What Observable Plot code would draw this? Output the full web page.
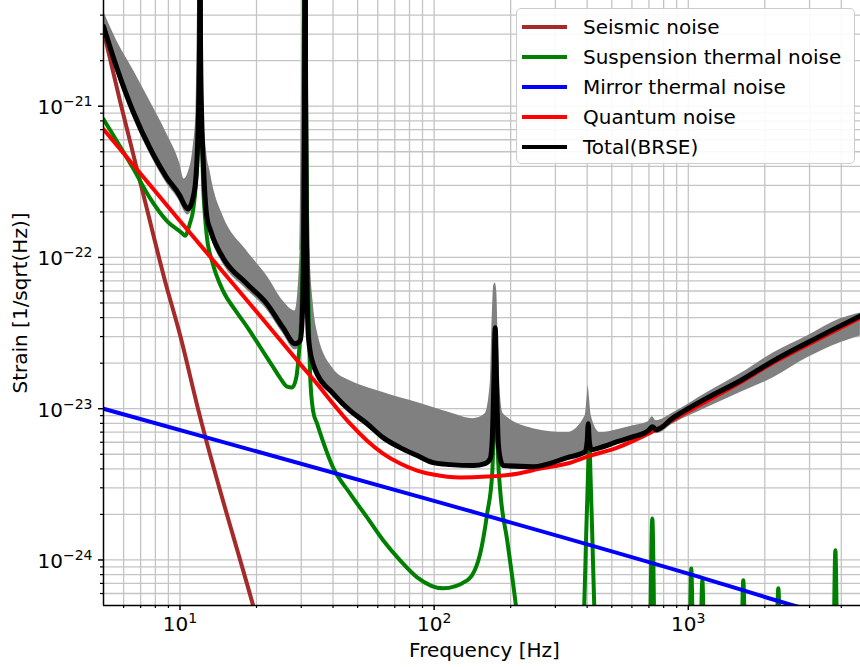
<!DOCTYPE html>
<html><head><meta charset="utf-8">
<script src="https://cdn.jsdelivr.net/npm/d3@7"></script>
<script src="https://cdn.jsdelivr.net/npm/@observablehq/plot@0.6"></script>
<style>
body{margin:0;background:#fff;font-family:"DejaVu Sans",sans-serif;}
#wrap{position:relative;width:860px;height:667px;overflow:hidden;}
#legend{position:absolute;left:516px;top:8px;width:339px;height:156px;border:1.5px solid #cccccc;border-radius:5px;background:rgba(255,255,255,0.9);box-sizing:border-box;}
.row{position:absolute;left:0;height:30px;width:100%;}
.sw{position:absolute;left:5px;width:45px;height:4px;top:13px;}
.lb{position:absolute;left:66px;top:0;line-height:30px;font-size:20px;color:#000;white-space:nowrap;}
</style></head>
<body><div id="wrap"></div>
<script>
// ---- data (frequency in Hz, strain in 1/sqrt(Hz)) ----
const seismicFreq   = [5, 5.81, 7.28, 8.73, 10, 11.77, 19.39, 22.0];
const seismicStrain = [3.13e-21, 1.08e-21, 2.36e-22, 7.00e-23, 3.08e-23, 1.00e-23, 5.01e-25, 2.34e-25];

const mirrorFreq   = [5, 99.1, 991, 2591, 4760];
const mirrorStrain = [1.0e-23, 2.47e-24, 8.15e-25, 5.01e-25, 3.75e-25];

const quantumFreq   = [5, 10, 18.86, 29.68, 34.63, 40.04, 46.7, 54.48, 62.98, 73.47, 85.72, 99.1, 126.6, 161.7, 212.3, 261.4, 333.9, 400.3, 525.4, 708.7, 991, 1602, 2160, 2941, 4755];
const quantumStrain = [7.05e-22, 1.74e-22, 4.93e-23, 1.98e-23, 1.46e-23, 1.08e-23, 7.96e-24, 6.15e-24, 5.05e-24, 4.34e-24, 3.90e-24, 3.67e-24, 3.51e-24, 3.56e-24, 3.72e-24, 4.02e-24, 4.34e-24, 4.82e-24, 5.53e-24, 6.95e-24, 9.54e-24, 1.49e-23, 2.01e-23, 2.64e-23, 3.99e-23];

const suspFreq = [5, 6.53, 7.62, 8.89, 10.27, 10.46, 10.95, 11.25, 11.56, 11.77, 11.94, 12.0, 12.04, 12.21, 12.32, 12.54, 12.77, 13.37, 14.77, 16.47, 18.36, 20.65, 23.23, 24.76, 26.38, 27.6, 28.62, 29.42, 29.95, 30.37, 30.77, 31.05, 31.34, 31.77, 32.2, 32.49, 33.39, 34.63, 40.04, 46.7, 54.48, 62.98, 73.47, 85.72, 108.5, 134.9, 151.7, 161.7, 169.2, 172.3, 173.9, 175.5, 178.6, 181.9, 193.8, 208.5, 214.1,
  null,
  382.5, 389.6, 396.6, 402.1, 407.6, 413.2, 418.8, 426.5, 434.3,
  null, 708.7, 721.7, 734.9,
  null, 1014, 1027.5, 1041,
  null, 1120, 1136, 1151,
  null, 1624, 1646, 1669,
  null, 2230, 2261, 2292,
  null, 3739, 3791, 3843];
const suspStrain = [8.21e-22, 3.90e-22, 2.47e-22, 1.74e-22, 1.43e-22, 1.39e-22, 1.69e-22, 2.03e-22, 3.15e-22, 5.88e-22, 2.49e-21, 1e-19, 2.49e-21, 5.88e-22, 3.20e-22, 1.88e-22, 1.35e-22, 9.48e-23, 6.01e-23, 4.50e-23, 3.48e-23, 2.57e-23, 1.89e-23, 1.60e-23, 1.40e-23, 1.38e-23, 1.58e-23, 2.41e-23, 3.81e-23, 1.10e-22, 1.08e-21, 1e-19, 1.08e-21, 1.10e-22, 3.27e-23, 1.70e-23, 9.70e-24, 7.96e-24, 4.08e-24, 2.75e-24, 1.91e-24, 1.35e-24, 9.93e-25, 7.67e-25, 6.49e-25, 7.33e-25, 1.10e-24, 2.03e-24, 3.72e-24, 1.13e-23, 2.81e-23, 1.13e-23, 4.54e-24, 2.88e-24, 1.35e-24, 5.41e-25, 3.70e-25,
  null,
  2.94e-25, 5.01e-25, 1.50e-24, 3.20e-24, 6.15e-24, 3.20e-24, 1.50e-24, 5.01e-25, 2.94e-25,
  null, 3e-25, 1.88e-24, 3e-25,
  null, 3e-25, 8.79e-25, 3e-25,
  null, 3e-25, 7.33e-25, 3e-25,
  null, 3e-25, 7.33e-25, 3e-25,
  null, 3e-25, 6.49e-25, 3e-25,
  null, 3e-25, 1.16e-24, 3e-25];

const totalFreq = [5, 5.65, 6.53, 7.62, 8.89, 10, 10.37, 10.75, 11.25, 11.56, 11.77, 11.94, 12.0, 12.04, 12.21, 12.32, 12.54, 12.77, 13.13, 13.49, 14.77, 18.36, 22.0, 25.44, 28.37, 29.68, 30.23, 30.64, 30.91, 31.05, 31.2, 31.48, 31.91, 32.49, 33.39, 34.63, 40.04, 46.7, 54.48, 62.98, 73.47, 85.72, 99.1, 115.6, 142.4, 158.8, 166.2, 169.2, 171.5, 173.9, 176.3, 178.6, 181.9, 186.9, 245.3, 333.9, 393, 400.3, 403.9, 407.6, 415.1, 450.3, 525.4, 607.5, 695.9, 721.7, 748, 873, 1188, 1602, 2160, 2941, 3966, 4755];
const totalStrain = [3.37e-21, 1.78e-21, 9.27e-22, 5.28e-22, 3.35e-22, 2.55e-22, 2.25e-22, 2.09e-22, 2.47e-22, 3.45e-22, 6.84e-22, 2.69e-21, 1e-19, 2.69e-21, 6.84e-22, 4.68e-22, 2.55e-22, 1.82e-22, 1.54e-22, 1.35e-22, 9.93e-23, 6.68e-23, 4.93e-23, 3.43e-23, 2.69e-23, 2.81e-23, 3.81e-23, 1.10e-22, 1.08e-21, 1e-19, 1.08e-21, 1.10e-22, 3.27e-23, 2.41e-23, 1.98e-23, 1.70e-23, 1.26e-23, 9.70e-24, 7.96e-24, 6.44e-24, 5.53e-24, 4.90e-24, 4.40e-24, 4.27e-24, 4.21e-24, 4.34e-24, 4.68e-24, 6.15e-24, 1.32e-23, 3.43e-23, 1.32e-23, 6.15e-24, 4.68e-24, 4.21e-24, 4.14e-24, 4.75e-24, 5.20e-24, 6.15e-24, 7.96e-24, 6.15e-24, 5.36e-24, 5.53e-24, 6.05e-24, 6.53e-24, 7.16e-24, 7.60e-24, 7.27e-24, 8.73e-24, 1.18e-23, 1.53e-23, 2.07e-23, 2.73e-23, 3.53e-23, 4.11e-23];

// gray uncertainty band around the total
const bandFreq = [5, 5.65, 6.53, 7.62, 8.89, 10, 10.37, 10.75, 11.25, 11.56, 11.77, 11.94, 12.0, 12.04, 12.21, 12.32, 12.54, 12.77, 13.13, 13.49, 14.77, 18.36, 22.0, 25.44, 28.37, 29.68, 30.23, 30.64, 30.91, 31.05, 31.2, 31.48, 31.91, 32.49, 33.39, 34.63, 40.04, 46.7, 54.48, 62.98, 73.47, 85.72, 99.1, 115.6, 142.4, 158.8, 166.2, 169.2, 171.5, 173.9, 176.3, 178.6, 181.9, 186.9, 245.3, 333.9, 393, 400.3, 403.9, 407.6, 415.1, 450.3, 525.4, 607.5, 695.9, 721.7, 748, 873, 1188, 1602, 2160, 2941, 3966, 4755];
const bandHigh = [4.24e-21, 2.69e-21, 1.75e-21, 1.08e-21, 6.53e-22, 4.14e-22, 3.30e-22, 3.61e-22, 5.28e-22, 9.27e-22, 6.68e-21, 1.05e-20, 1e-19, 1.05e-20, 6.68e-21, 1.08e-21, 6.53e-22, 4.68e-22, 3.72e-22, 2.96e-22, 1.88e-22, 1.10e-22, 7.55e-23, 5.16e-23, 4.43e-23, 1.10e-22, 2.69e-21, 6.68e-21, 1.05e-20, 1e-19, 1.05e-20, 6.68e-21, 3.64e-21, 1.10e-22, 5.16e-23, 3.27e-23, 1.84e-23, 1.53e-23, 1.38e-23, 1.28e-23, 1.18e-23, 1.10e-23, 1.02e-23, 9.41e-24, 8.60e-24, 9.27e-24, 1.46e-23, 3.99e-23, 6.49e-23, 6.79e-23, 6.01e-23, 3.13e-23, 1.32e-23, 9.27e-24, 7.38e-24, 6.95e-24, 8.99e-24, 1.22e-23, 1.42e-23, 1.22e-23, 8.99e-24, 6.95e-24, 7.27e-24, 7.72e-24, 8.21e-24, 8.86e-24, 8.34e-24, 9.41e-24, 1.28e-23, 1.70e-23, 2.34e-23, 3.03e-23, 3.93e-23, 4.30e-23];
const bandLow = [3.08e-21, 1.63e-21, 8.46e-22, 4.82e-22, 3.06e-22, 2.32e-22, 2.03e-22, 1.91e-22, 2.25e-22, 3.15e-22, 6.24e-22, 2.45e-21, 1e-19, 2.45e-21, 6.24e-22, 4.27e-22, 2.32e-22, 1.66e-22, 1.41e-22, 1.23e-22, 9.06e-23, 6.10e-23, 4.50e-23, 3.13e-23, 2.45e-23, 2.57e-23, 3.48e-23, 1.01e-22, 9.85e-22, 1e-19, 9.85e-22, 1.01e-22, 2.99e-23, 2.20e-23, 1.81e-23, 1.60e-23, 1.22e-23, 9.70e-24, 7.96e-24, 6.44e-24, 5.53e-24, 4.90e-24, 4.40e-24, 4.27e-24, 4.21e-24, 4.34e-24, 4.68e-24, 6.15e-24, 1.32e-23, 3.43e-23, 1.32e-23, 6.15e-24, 4.68e-24, 4.21e-24, 4.14e-24, 4.75e-24, 5.20e-24, 6.15e-24, 7.96e-24, 6.15e-24, 5.36e-24, 5.53e-24, 6.05e-24, 6.34e-24, 6.73e-24, 7.05e-24, 6.84e-24, 7.96e-24, 1.02e-23, 1.28e-23, 1.60e-23, 2.17e-23, 2.73e-23, 3.03e-23];

// axes
const xDomain = [5, 4760];
const yDomain = [5e-25, 5e-21];
const xMajorTicks = [10, 100, 1000];
const xMinorTicks = [6, 7, 8, 9, 20, 30, 40, 50, 60, 70, 80, 90, 200, 300, 400, 500, 600, 700, 800, 900, 2000, 3000, 4000];
const yMajorTicks = [1e-24, 1e-23, 1e-22, 1e-21];
const yMinorTicks = [6e-25, 7e-25, 8e-25, 9e-25, 2e-24, 3e-24, 4e-24, 5e-24, 6e-24, 7e-24, 8e-24, 9e-24, 2e-23, 3e-23, 4e-23, 5e-23, 6e-23, 7e-23, 8e-23, 9e-23, 2e-22, 3e-22, 4e-22, 5e-22, 6e-22, 7e-22, 8e-22, 9e-22, 2e-21, 3e-21, 4e-21];
const xLabel = "Frequency [Hz]";
const yLabel = "Strain [1/sqrt(Hz)]";

const seriesNames  = ["Seismic noise", "Suspension thermal noise", "Mirror thermal noise", "Quantum noise", "Total(BRSE)"];
const seriesColors = ["#a52a2a", "#008000", "#0000ff", "#ff0000", "#000000"];

// ---- tables ----
const toRows = (fs, vs) => fs.map((f, i) => ({f, v: vs[i]}));
const seismic = toRows(seismicFreq, seismicStrain);
const susp = toRows(suspFreq, suspStrain);
const mirror = toRows(mirrorFreq, mirrorStrain);
const quantum = toRows(quantumFreq, quantumStrain);
const total = toRows(totalFreq, totalStrain);
const band = bandFreq.map((f, i) => ({f, lo: bandLow[i], hi: bandHigh[i]}));

const gridAll = (a, b) => a.concat(b);
const expFmt = d => "10^" + String(Math.round(Math.log10(d))).replace("-", "\u2212");

const gridStyle = {stroke: "#c4c4c4", strokeOpacity: 1, strokeWidth: 1.3};
const curve = "monotone-x";

const chart = Plot.plot({
  width: 860, height: 667,
  marginLeft: 103, marginRight: 0, marginTop: 0, marginBottom: 62,
  style: {fontFamily: "DejaVu Sans, sans-serif", fontSize: "20px", background: "white", color: "black"},
  x: {type: "log", domain: xDomain, label: null},
  y: {type: "log", domain: yDomain, label: null},
  marks: [
    Plot.gridX(gridAll(xMajorTicks, xMinorTicks), gridStyle),
    Plot.gridY(gridAll(yMajorTicks, yMinorTicks), gridStyle),
    Plot.areaY(band, {x: "f", y1: "lo", y2: "hi", fill: "#808080", curve, clip: true}),
    Plot.line(seismic, {x: "f", y: "v", stroke: seriesColors[0], strokeWidth: 4, curve, clip: true}),
    Plot.line(susp, {x: "f", y: "v", stroke: seriesColors[1], strokeWidth: 4, curve, clip: true}),
    Plot.line(mirror, {x: "f", y: "v", stroke: seriesColors[2], strokeWidth: 4, curve, clip: true}),
    Plot.line(quantum, {x: "f", y: "v", stroke: seriesColors[3], strokeWidth: 4, curve, clip: true}),
    Plot.line(total, {x: "f", y: "v", stroke: seriesColors[4], strokeWidth: 5, curve, clip: true}),
    Plot.ruleX([xDomain[0]], {stroke: "black", strokeWidth: 1.5}),
    Plot.ruleY([yDomain[0]], {stroke: "black", strokeWidth: 1.5}),
    Plot.axisX(xMajorTicks, {tickSize: 5, tickPadding: 6, tickFormat: expFmt, strokeWidth: 1.5, label: null}),
    Plot.axisX(xMinorTicks, {tickSize: 3, tickFormat: () => "", strokeWidth: 1.2, label: null}),
    Plot.axisY(yMajorTicks, {tickSize: 5, tickPadding: 6, tickFormat: expFmt, strokeWidth: 1.5, label: null}),
    Plot.axisY(yMinorTicks, {tickSize: 3, tickFormat: () => "", strokeWidth: 1.2, label: null}),
    Plot.text([xLabel], {frameAnchor: "bottom", lineAnchor: "middle", textAnchor: "middle", dy: 45, dx: 2.5, fontSize: 20}),
    Plot.text([yLabel], {frameAnchor: "left", lineAnchor: "middle", textAnchor: "middle", rotate: -90, dx: -83, fontSize: 20})
  ]
});

// render exponents as superscripts
d3.select(chart).selectAll("text").each(function() {
  const t = this.textContent;
  const m = /^10\^(.+)$/.exec(t);
  if (!m) return;
  const sel = d3.select(this);
  const isY = m[1].startsWith("\u2212");
  sel.text(null);
  sel.append("tspan").text("10");
  sel.append("tspan").attr("dy", "-8").attr("font-size", "14").text(m[1]);
  if (isY) sel.attr("dy", "1.5");
});

const wrap = document.getElementById("wrap");
wrap.appendChild(chart);

// legend
const legend = document.createElement("div");
legend.id = "legend";
seriesNames.forEach((name, i) => {
  const row = document.createElement("div");
  row.className = "row";
  row.style.top = (3 + i * 30) + "px";
  const sw = document.createElement("div");
  sw.className = "sw";
  sw.style.background = seriesColors[i];
  const lb = document.createElement("div");
  lb.className = "lb";
  lb.textContent = name;
  row.appendChild(sw); row.appendChild(lb);
  legend.appendChild(row);
});
wrap.appendChild(legend);
</script>
</body></html>
